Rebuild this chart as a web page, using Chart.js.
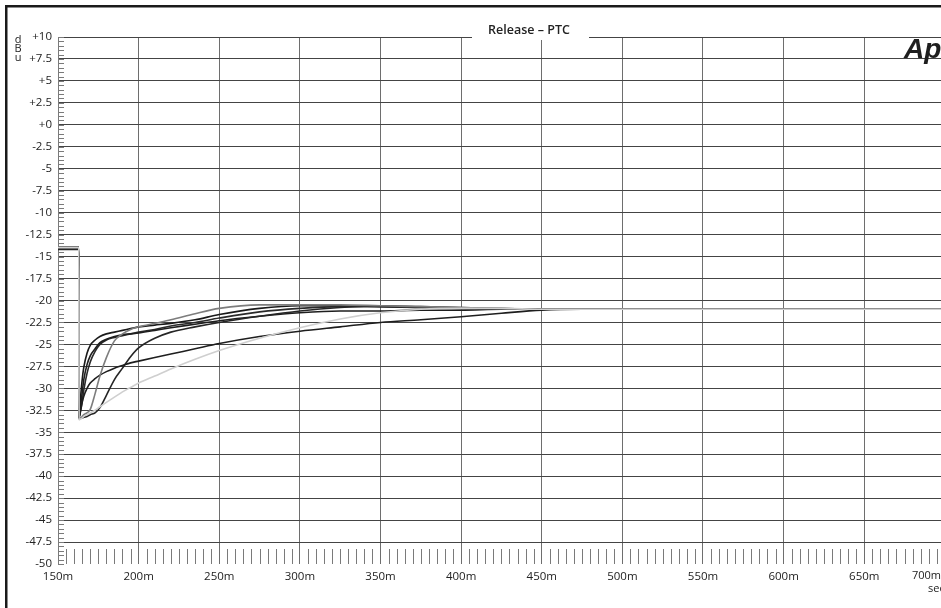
<!DOCTYPE html>
<html>
<head>
<meta charset="utf-8">
<script src="https://cdn.jsdelivr.net/npm/chart.js@4.4.1/dist/chart.umd.min.js"></script>
<style>
  html, body { margin: 0; padding: 0; background: #fff; overflow: hidden; }
  canvas { display: block; }
</style>
</head>
<body>
<canvas id="releaseChart" width="941" height="608"></canvas>
<script>
// time axis (ms) shared by all traces
const times = [150, 162.9, 163, 164, 165, 166, 168, 170, 173, 176,
  180, 185, 190, 195, 200, 210, 220, 235, 250, 275,
  300, 325, 350, 375, 400, 425, 450, 475, 500, 550,
  600, 650, 700];

// levels in dBu
const traceA = [-14.0, -14.0, -33.3, -31.0, -29.0, -27.6, -26.0, -25.1, -24.5, -24.1,
  -23.8, -23.6, -23.4, -23.2, -23.0, -22.8, -22.6, -22.2, -21.6, -20.9,
  -20.6, -20.6, -20.7, -20.8, -20.9, -21.0, -21.0, -21.0, -21.0, -21.0,
  -21.0, -21.0, -21.0];
const traceB = [-13.9, -13.9, -33.5, -33.4, -33.2, -33.0, -32.8, -32.4, -30.6, -28.6,
  -26.5, -24.6, -23.8, -23.3, -23.0, -22.6, -22.2, -21.5, -20.9, -20.5,
  -20.5, -20.5, -20.6, -20.7, -20.8, -20.9, -21.0, -21.0, -21.0, -21.0,
  -21.0, -21.0, -21.0];
const traceC = [-14.1, -14.1, -33.4, -32.0, -30.5, -29.0, -27.3, -26.3, -25.5, -24.8,
  -24.4, -24.1, -23.9, -23.8, -23.7, -23.4, -23.1, -22.7, -22.3, -21.8,
  -21.4, -21.2, -21.2, -21.1, -21.1, -21.0, -21.0, -21.0, -21.0, -21.0,
  -21.0, -21.0, -21.0];
const traceD = [-14.0, -14.0, -33.3, -32.6, -31.5, -30.2, -28.3, -27.0, -25.8, -25.0,
  -24.5, -24.2, -24.0, -23.8, -23.6, -23.3, -22.9, -22.5, -22.0, -21.3,
  -20.9, -20.7, -20.7, -20.8, -20.9, -21.0, -21.0, -21.0, -21.0, -21.0,
  -21.0, -21.0, -21.0];
const traceE = [-14.2, -14.2, -33.5, -33.4, -33.4, -33.3, -33.2, -33.0, -32.8, -32.2,
  -30.8, -29.0, -27.7, -26.4, -25.4, -24.3, -23.6, -23.0, -22.5, -21.8,
  -21.2, -20.8, -20.6, -20.7, -20.8, -20.9, -21.0, -21.0, -21.0, -21.0,
  -21.0, -21.0, -21.0];
const traceF = [-13.9, -13.9, -33.4, -32.5, -31.6, -30.9, -30.0, -29.4, -28.9, -28.5,
  -28.1, -27.7, -27.4, -27.1, -26.9, -26.5, -26.1, -25.5, -24.9, -24.1,
  -23.5, -23.0, -22.5, -22.2, -21.85, -21.45, -21.1, -21.0, -21.0, -21.0,
  -21.0, -21.0, -21.0];
const traceG = [-14.0, -14.0, -33.6, -33.5, -33.4, -33.2, -33.0, -32.8, -32.5, -32.1,
  -31.6, -31.0, -30.4, -29.9, -29.4, -28.6, -27.8, -26.7, -25.7, -24.3,
  -23.1, -22.1, -21.4, -21.0, -20.9, -20.9, -21.0, -21.0, -21.0, -21.0,
  -21.0, -21.0, -21.0];

const xTicks = [150, 200, 250, 300, 350, 400, 450, 500, 550, 600, 650];
const yMin = -50, yMax = 10, yStep = 2.5;

const FONT = '"Open Sans", "DejaVu Sans", sans-serif';

function series(vals) {
  return times.map((t, i) => ({ x: t, y: vals[i] }));
}

function trace(label, vals, color) {
  return {
    label: label,
    data: series(vals),
    borderColor: color,
    borderWidth: 1.6,
    pointRadius: 0,
    fill: false,
    cubicInterpolationMode: 'monotone'
  };
}

// extra drawing: minor ticks, frame, title box, labels
const decor = {
  id: 'decor',
  beforeDatasetsDraw(chart) {
    const ctx = chart.ctx;
    const x = chart.scales.x, y = chart.scales.y;
    const a = chart.chartArea;
    ctx.save();
    ctx.strokeStyle = '#7a7a7a';
    ctx.lineWidth = 1;
    ctx.beginPath();
    // minor ticks on the left axis every 0.5 dB
    for (let v = yMin; v <= yMax; v += 0.5) {
      const py = Math.round(y.getPixelForValue(v)) + 0.5;
      ctx.moveTo(a.left, py);
      ctx.lineTo(a.left + 6, py);
    }
    // minor ticks at the bottom every 5 ms
    for (let t = 155; t < x.max; t += 5) {
      if (t % 50 === 0) continue;
      const px = Math.round(x.getPixelForValue(t)) + 0.5;
      ctx.moveTo(px, a.bottom);
      ctx.lineTo(px, a.bottom - 15);
    }
    ctx.stroke();
    ctx.restore();
  },
  afterDraw(chart) {
    const ctx = chart.ctx;
    ctx.save();
    // outer frame (left and top)
    ctx.fillStyle = '#1a1a1a';
    ctx.fillRect(5, 5, 936, 2.5);
    ctx.fillRect(5, 5, 2.5, 603);

    // title sitting on the top grid line
    ctx.fillStyle = '#fff';
    ctx.fillRect(472, 18, 117, 22);
    ctx.fillStyle = '#222';
    ctx.font = '600 12.5px ' + FONT;
    ctx.textAlign = 'center';
    ctx.textBaseline = 'middle';
    ctx.fillText('Release \u2013 PTC', 529, 30);

    // unit label, stacked
    ctx.font = '11px ' + FONT;
    ctx.fillText('d', 18, 40);
    ctx.fillText('B', 18, 49);
    ctx.fillText('u', 18, 58);

    // last tick label and unit at the cut right edge
    ctx.font = '11px ' + FONT;
    ctx.textAlign = 'right';
    ctx.fillText('700m', 941, 576);
    ctx.textAlign = 'left';
    ctx.fillText('sec', 928, 589);

    // logo, cut off by the right edge
    ctx.font = 'italic bold 28px "Liberation Sans", Arial, sans-serif';
    ctx.textBaseline = 'alphabetic';
    ctx.fillStyle = '#1e1e1e';
    ctx.fillText('Ap', 904, 58);
    ctx.restore();
  }
};

new Chart(document.getElementById('releaseChart').getContext('2d'), {
  type: 'line',
  data: {
    datasets: [
      trace('G', traceG, '#cfcfcf'),
      trace('B', traceB, '#7d7d7d'),
      trace('F', traceF, '#1e1e1e'),
      trace('E', traceE, '#262626'),
      trace('C', traceC, '#1e1e1e'),
      trace('D', traceD, '#2a2a2a'),
      trace('A', traceA, '#1a1a1a')
    ]
  },
  options: {
    responsive: false,
    animation: false,
    devicePixelRatio: 1,
    layout: { padding: { left: 0, top: 37, right: 0, bottom: 0 } },
    plugins: {
      legend: { display: false },
      tooltip: { enabled: false },
      title: { display: false }
    },
    scales: {
      x: {
        type: 'linear',
        min: 150,
        max: 697.6,
        afterBuildTicks: s => { s.ticks = xTicks.map(v => ({ value: v })); },
        afterFit: s => { s.height = 44; },
        border: { display: false },
        grid: { color: '#6e6e6e', lineWidth: 1, drawTicks: false },
        ticks: {
          padding: 6,
          maxRotation: 0,
          color: '#222',
          font: { family: FONT, size: 11.5 },
          callback: v => v + 'm'
        }
      },
      y: {
        type: 'linear',
        min: yMin,
        max: yMax,
        afterFit: s => { s.width = 58; },
        border: { display: true, color: '#7a7a7a', width: 1 },
        grid: {
          color: ctx => (ctx.tick && ctx.tick.value === yMin) ? 'rgba(0,0,0,0)' : '#444',
          lineWidth: 1,
          drawTicks: false
        },
        ticks: {
          stepSize: yStep,
          padding: 6,
          color: '#222',
          font: { family: FONT, size: 11.5 },
          callback: v => (v >= 0 ? '+' + v : String(v))
        }
      }
    }
  },
  plugins: [decor]
});
</script>
</body>
</html>
